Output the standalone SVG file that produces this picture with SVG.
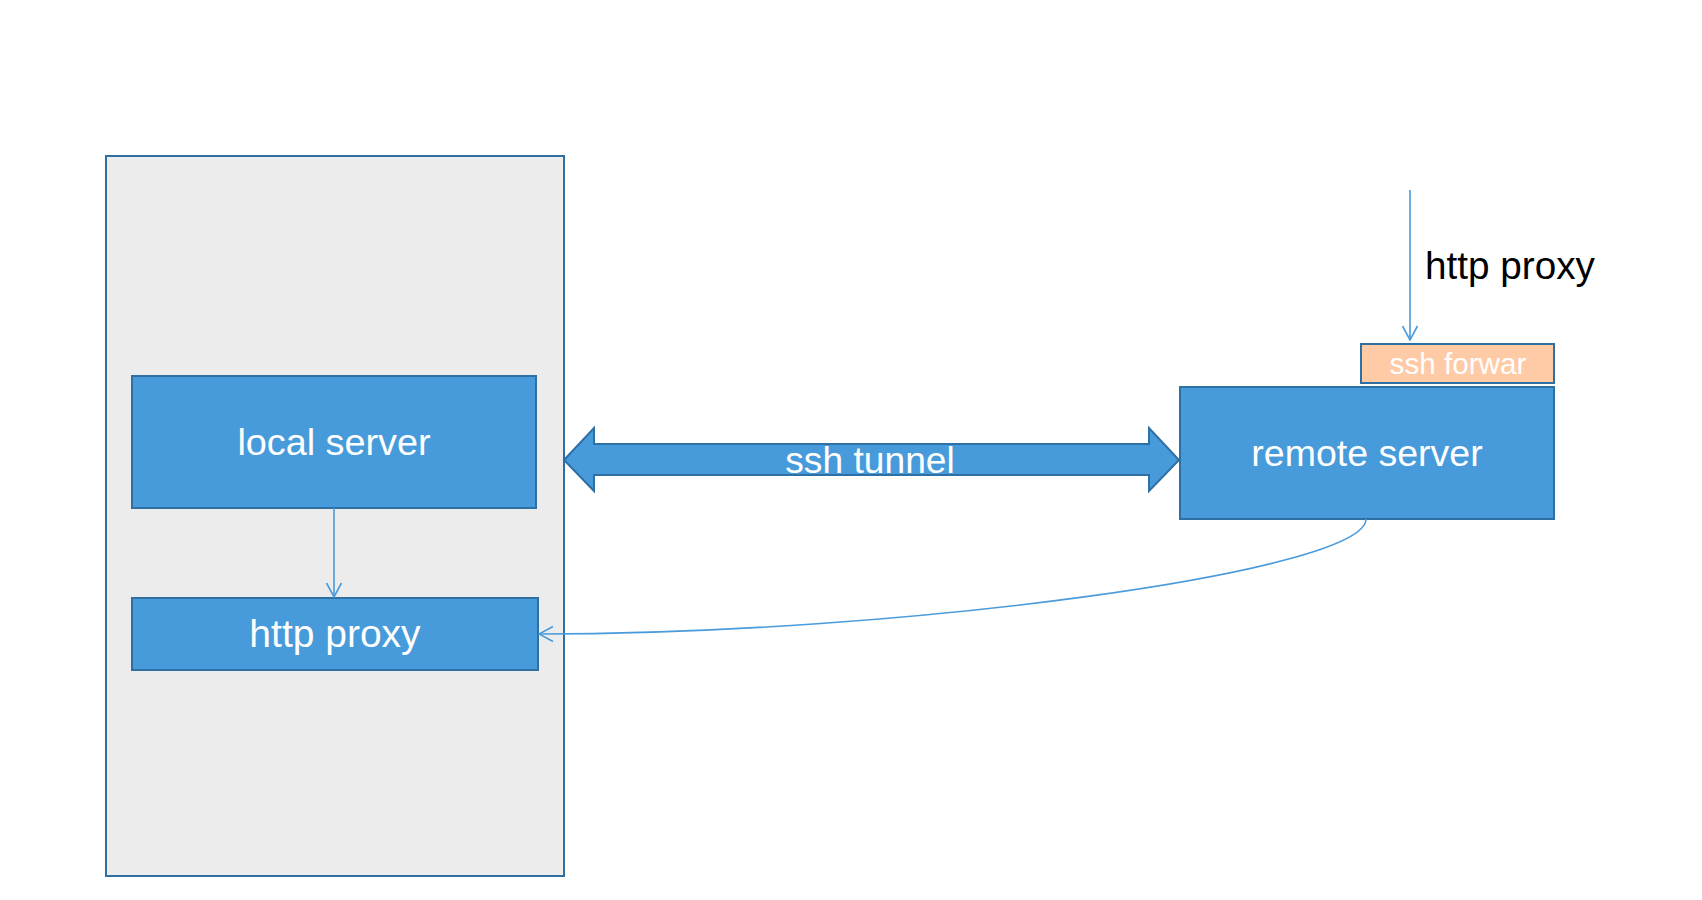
<svg xmlns="http://www.w3.org/2000/svg" width="1702" height="900" viewBox="0 0 1702 900">
<style>
.box{fill:#479BDA;stroke:#2E6FA4;stroke-width:2}
.lbl{font-family:"Liberation Sans",Arial,sans-serif;fill:#ffffff;text-anchor:middle}
.conn{fill:none;stroke:#4A9BDB;stroke-width:1.6}
</style>
<defs>
<marker id="open" viewBox="0 0 16 18" refX="15" refY="9" markerWidth="16" markerHeight="18" orient="auto" markerUnits="userSpaceOnUse">
<path d="M1,1.5 L15,9 L1,16.5" fill="none" stroke="#4A9BDB" stroke-width="1.6"/>
</marker>
</defs>
<rect width="1702" height="900" fill="#ffffff"/>
<g id="container">
<rect x="106" y="156" width="458" height="720" fill="#ECECEC" stroke="#2E6FA4" stroke-width="2"/>
</g>
<g id="local-server">
<rect class="box" x="132" y="376" width="404" height="132"/>
<text class="lbl" x="334" y="455" font-size="37.8">local server</text>
</g>
<g id="http-proxy-local">
<rect class="box" x="132" y="598" width="406" height="72"/>
<text class="lbl" x="335" y="647" font-size="39">http proxy</text>
</g>
<g id="remote-server">
<rect class="box" x="1180" y="387" width="374" height="132"/>
<text class="lbl" x="1367" y="466" font-size="37.5">remote server</text>
</g>
<g id="ssh-forward">
<rect x="1361" y="344" width="193" height="39" fill="#FFCAA6" stroke="#2E6FA4" stroke-width="2"/>
<text class="lbl" x="1458" y="374" font-size="29.7">ssh forwar</text>
</g>
<g id="ssh-tunnel">
<polygon points="564,460 594,428 594,444 1149,444 1149,428 1179,460 1149,491 1149,475 594,475 594,491" fill="#479BDA" stroke="#2E6FA4" stroke-width="2" stroke-linejoin="miter"/>
<text class="lbl" x="870" y="473" font-size="37.2">ssh tunnel</text>
</g>
<g id="connectors">
<line class="conn" x1="334" y1="508" x2="334" y2="597" marker-end="url(#open)"/>
<line class="conn" x1="1410" y1="190" x2="1410" y2="340" marker-end="url(#open)"/>
<path class="conn" d="M1366,519 C1366,572 900,634 539,634" marker-end="url(#open)"/>
<text x="1425" y="279" font-family="'Liberation Sans',Arial,sans-serif" font-size="38.7" fill="#000000">http proxy</text>
</g>
</svg>
